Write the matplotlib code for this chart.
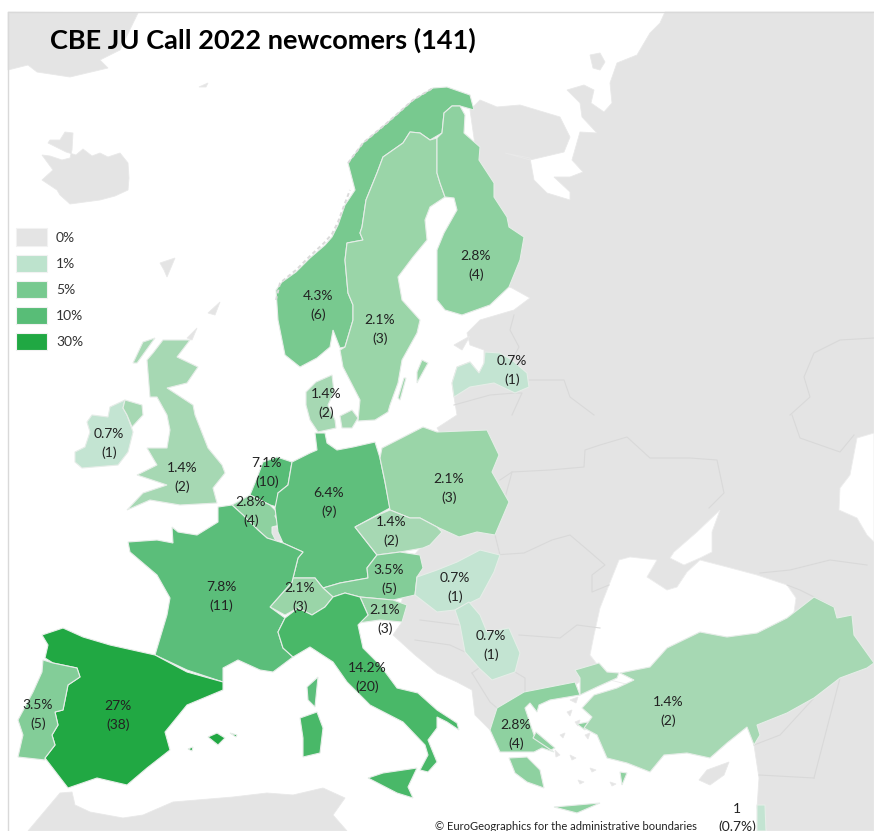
import matplotlib
matplotlib.use("Agg")
import matplotlib.pyplot as plt
from matplotlib.patches import Polygon, Rectangle

# ---------- data ----------
countries = ["NO","SE","FI","LV","DK","IE","UK","NL","BE","DE","PL","CZ","AT","CH","FR","SI","HU","RS","IT","ES","PT","EL","TR"]
percent = ["4.3%","2.1%","2.8%","0.7%","1.4%","0.7%","1.4%","7.1%","2.8%","6.4%","2.1%","1.4%","3.5%","2.1%","7.8%","2.1%","0.7%","0.7%","14.2%","27%","3.5%","2.8%","1.4%"]
counts = [6,3,4,1,2,1,2,10,4,9,3,2,5,3,11,3,1,1,20,38,5,4,2]
legend_labels = ["0%","1%","5%","10%","30%"]
title = "CBE JU Call 2022 newcomers (141)"
credit = "© EuroGeographics for the administrative boundaries"

# ---------- styles ----------
fills = {"NO":"#78C98F","SE":"#9AD5A8","FI":"#8ED1A0","LV":"#C3E4D2","DK":"#A6D8B3","IE":"#C3E4D2","UK":"#A6D8B3",
         "NL":"#57BC76","BE":"#8ED1A0","DE":"#5FBF7C","PL":"#9AD5A8","CZ":"#A6D8B3","AT":"#83CD98","CH":"#9AD5A8",
         "FR":"#5BBE7A","SI":"#9AD5A8","HU":"#C3E4D2","RS":"#C3E4D2","IT":"#49B868","ES":"#21A843","PT":"#83CD98",
         "EL":"#8ED1A0","TR":"#A6D8B3","IL":"#C3E4D2"}
legend_colors = ["#E4E4E4","#BDE3CD","#77C98F","#58BD77","#20A843"]
GREY = "#E4E4E4"
label_pos = {"NO":(318,296),"SE":(380,320),"FI":(476,256),"LV":(512,361),"DK":(326,394),"IE":(109,434),"UK":(182,468),
             "NL":(267,463),"BE":(251,502),"DE":(329,493),"PL":(449,479),"CZ":(391,522),"AT":(389,570),"CH":(300,588),
             "FR":(221,587),"SI":(385,610),"HU":(455,578),"RS":(491,636),"IT":(367,668),"ES":(118,706),"PT":(38,705),
             "EL":(516,725),"TR":(668,702)}

# ---------- map outlines (pixel geometry of the base map) ----------
grey_land = [
 [(665,12),(660,23),(650,33),(637,55),(617,63),(610,83),(612,103),(604,112),(591,103),(594,90),(584,85),(567,90),(580,103),
  (582,117),(597,133),(580,132),(572,160),(583,172),(570,177),(554,177),(570,192),(570,200),(547,193),(534,180),(530,158),
  (505,153),(530,160),(564,152),(570,137),(560,117),(520,105),(497,107),(480,100),(470,110),(490,250),(509,287),(512,288),
  (530,298),(514,310),(480,320),(467,333),(470,345),(484,350),(484,365),(479,373),(470,362),(457,367),(452,383),(454,397),
  (457,415),(437,428),(445,440),(480,470),(460,520),(440,525),(410,560),(400,610),(402,622),(393,635),(415,655),(437,673),
  (457,682),(472,690),(475,715),(490,730),(500,720),(520,700),(575,685),(590,675),(600,668),(620,660),(660,650),(790,625),
  (790,640),(757,700),(754,745),(759,778),(757,808),(767,831),(874,831),(874,12)],
 [(42,155),(50,156),(62,160),(70,158),(72,150),(73,133),(65,132),(60,140),(50,140),(48,143),(58,148),(66,152),(76,155),(83,149),
  (92,156),(100,153),(108,157),(120,153),(128,163),(129,178),(128,190),(115,196),(100,200),(85,202),(70,204),(60,195),(57,190),
  (42,180),(53,170)],
 [(8,12),(8,70),(28,65),(37,72),(70,77),(108,68),(100,60),(120,50),(138,13)],
 [(28,831),(60,793),(72,792),(75,805),(90,812),(123,818),(143,815),(173,802),(233,797),(267,793),(293,795),(323,788),(345,798),
  (333,815),(347,831)],
 [(273,527),(281,527),(282,540),(276,541),(272,533)],
 [(699,780),(707,770),(729,762),(724,775),(710,785)],
 [(590,55),(600,53),(605,62),(600,70),(593,68)],
 [(160,263),(175,258),(167,277),(164,270)],
 [(187,338),(197,328),(192,340)],
 [(208,313),(220,302),(215,315)],
 [(454,345),(470,336),(462,350)],
 [(199,87),(208,83),(206,87)],
 [(570,700),(578,697),(576,703)],
 [(567,712),(572,710),(570,716)],
 [(585,735),(590,733),(588,739)],
 [(575,722),(580,720),(578,726)],
 [(560,735),(565,733),(563,738)],
 [(555,750),(560,755),(556,757)],
 [(570,755),(576,758),(572,760)],
 [(590,768),(596,770),(592,772)],
 [(578,780),(584,782),(580,784)],
 [(610,782),(616,784),(612,786)],
 [(525,770),(530,772),(527,775)],
]
seas = [
 [(590,655),(594,635),(600,608),(609,585),(619,560),(630,557),(657,560),(647,577),(667,590),(677,587),(687,572),(700,560),
  (727,567),(757,575),(787,585),(796,598),(790,640),(700,660),(650,690),(610,680),(600,668)],
 [(674,552),(697,532),(720,510),(712,532),(712,552),(700,558),(684,565),(670,558)],
 [(874,433),(857,438),(850,475),(840,488),(839,510),(857,518),(867,535),(874,542)],
]
grey_borders = [
 [(500,480),(512,472),(550,470),(584,467),(585,450),(600,445),(627,437),(650,458),(690,458),(717,460),(724,493),(709,508)],
 [(494,555),(524,553),(552,540),(570,535),(590,552),(605,565),(592,575),(592,592),(609,585)],
 [(519,635),(560,638),(577,625),(600,628)],
 [(525,692),(525,678),(515,672)],
 [(495,535),(500,555)],
 [(760,573),(790,570),(830,560),(867,565)],
 [(787,585),(800,590),(834,607)],
 [(790,415),(810,397),(804,377),(814,353),(840,340),(874,338)],
 [(792,415),(800,438),(840,452),(854,435)],
 [(514,315),(510,330),(519,347),(512,360)],
 [(512,415),(522,393),(515,393)],
 [(529,380),(564,380),(570,397),(594,415)],
 [(454,405),(490,395),(515,393)],
 [(495,535),(512,472)],
 [(472,673),(490,702),(497,708)],
 [(479,668),(472,673)],
 [(420,620),(460,625)],
 [(415,640),(450,645),(465,652)],
 [(754,745),(780,735),(814,698)],
 [(814,778),(759,775)],
 [(814,778),(840,678)],
]
coast_fringe = [
 [(276,300),(280,283),(296,270),(310,256),(324,243),(332,234),(338,222),(345,203),(350,190)],
 [(348,163),(363,143),(387,123),(413,100),(433,88)],
]
outlines = {
 "NO":[[(300,367),(285,355),(282,340),(278,320),(276,290),(282,282),(296,272),(310,258),(325,245),(332,237),(338,225),(345,205),
        (355,190),(348,163),(363,143),(387,123),(413,100),(433,88),(447,87),(470,95),(474,110),(460,106),(452,106),(444,113),
        (442,133),(430,140),(420,133),(410,132),(403,143),(383,157),(377,173),(366,200),(362,227),(360,233),(363,240),(347,243),
        (345,260),(348,293),(353,305),(353,320),(345,347),(340,348),(333,330),(330,347),(317,358)]],
 "SE":[[(410,132),(420,133),(430,140),(437,138),(437,173),(440,183),(445,197),(430,207),(425,220),(427,240),(413,257),(398,277),
        (402,300),(420,320),(417,333),(402,360),(398,383),(390,405),(388,412),(375,420),(358,421),(360,400),(343,367),(340,350),
        (345,347),(353,320),(353,305),(348,293),(345,260),(347,243),(363,240),(360,233),(362,227),(366,200),(377,173),(383,157),(403,143)],
       [(417,383),(428,363),(422,360),(417,372)],
       [(400,400),(406,378),(404,378),(398,398)]],
 "FI":[[(452,106),(460,106),(465,115),(464,133),(480,147),(479,160),(494,183),(494,197),(507,217),(509,227),(524,237),(520,260),
        (509,287),(490,305),(462,315),(445,310),(437,300),(437,250),(444,233),(457,210),(454,198),(445,197),(440,183),(437,173),
        (437,138),(442,133),(444,113)]],
 "LV":[[(452,383),(457,367),(470,362),(479,373),(484,363),(485,352),(500,353),(512,360),(527,373),(529,387),(515,393),(494,383),
        (470,387),(454,397)]],
 "DK":[[(306,392),(316,382),(332,375),(334,392),(328,405),(335,420),(336,428),(318,432),(310,420),(306,405)],
       [(340,416),(352,410),(358,418),(352,428),(342,428)]],
 "IE":[[(110,407),(125,400),(123,408),(127,415),(133,432),(128,452),(118,465),(82,468),(75,462),(75,452),(85,447),(90,432),(87,422),(92,415),(108,417)]],
 "UK":[[(163,340),(190,340),(177,357),(198,367),(187,383),(167,388),(193,405),(195,415),(208,448),(222,465),(225,473),(213,488),
        (217,503),(180,505),(150,500),(127,510),(143,493),(167,485),(137,475),(157,465),(147,448),(167,448),(170,430),(167,415),
        (157,397),(150,397),(147,360),(153,353)],
       [(123,408),(125,400),(142,405),(143,415),(132,427),(127,415)],
       [(143,342),(155,338),(137,363),(133,363)]],
 "NL":[[(292,462),(288,485),(278,493),(277,507),(270,505),(250,495),(257,478),(263,462),(277,457)]],
 "BE":[[(232,505),(250,495),(270,505),(277,512),(275,516),(280,525),(272,527),(272,533),(276,541),(267,538),(258,530),(243,515)]],
 "DE":[[(315,433),(325,433),(327,443),(337,450),(353,447),(375,442),(380,458),(385,482),(390,508),(355,527),(377,555),(367,568),
        (368,578),(340,583),(323,588),(315,578),(293,578),(298,558),(303,552),(283,543),(278,532),(275,508),(278,493),(288,485),
        (292,462),(310,453),(317,450)]],
 "PL":[[(382,448),(423,427),(437,432),(487,430),(499,455),(492,472),(509,502),(495,535),(477,532),(459,537),(437,527),(420,518),
        (410,518),(390,510),(385,482),(380,458)]],
 "CZ":[[(355,527),(378,515),(390,510),(410,518),(420,518),(437,527),(442,532),(430,545),(423,548),(400,552),(377,555)]],
 "AT":[[(377,555),(400,552),(420,555),(423,568),(417,577),(415,595),(393,600),(360,597),(345,593),(333,597),(323,588),(340,583),(368,578),(367,568)]],
 "CH":[[(270,607),(292,582),(293,578),(315,578),(323,588),(333,597),(325,607),(312,615),(298,608),(285,615)]],
 "SI":[[(360,597),(393,600),(407,605),(402,622),(380,620),(358,623),(368,615)]],
 "FR":[[(218,507),(232,505),(243,515),(258,530),(267,538),(283,543),(303,552),(298,558),(293,578),(292,582),(270,607),(285,618),
        (278,632),(283,648),(293,657),(273,672),(260,670),(238,660),(223,668),(223,682),(187,670),(155,655),(167,615),(170,598),
        (157,575),(130,552),(128,542),(157,540),(173,543),(172,527),(178,532),(197,535),(218,522)],
       [(307,687),(318,677),(315,707),(308,700)]],
 "ES":[[(42,635),(63,628),(83,637),(110,645),(155,655),(187,672),(223,682),(223,690),(187,705),(165,732),(170,750),(147,768),(127,785),
        (97,778),(68,788),(45,758),(55,745),(52,735),(58,725),(55,712),(63,710),(68,685),(80,677),(77,668),(53,663),(45,658),(48,645)],
       [(208,737),(217,733),(225,738),(218,745)],
       [(230,733),(237,735),(236,737)],
       [(188,749),(193,747),(192,751)]],
 "PT":[[(43,660),(53,663),(77,668),(80,677),(68,685),(63,710),(55,712),(58,725),(52,735),(55,745),(45,758),(45,760),(18,757),(23,735),(18,720),(33,692),(42,672)]],
 "IT":[[(285,618),(298,608),(312,615),(325,607),(333,597),(345,593),(360,597),(368,615),(358,625),(363,648),(380,665),(397,688),(418,693),
        (437,710),(457,723),(459,730),(447,722),(437,717),(437,728),(428,740),(437,762),(428,772),(420,770),(428,755),(425,745),(403,722),
        (370,705),(347,682),(333,662),(310,647),(293,657),(283,648),(278,632)],
       [(368,778),(383,773),(417,768),(408,787),(413,798),(397,793)],
       [(300,718),(317,712),(323,728),(320,753),(303,757),(303,738)]],
 "HU":[[(500,555),(480,550),(457,562),(437,570),(417,577),(415,595),(437,612),(455,610),(480,598),(494,572)]],
 "RS":[[(455,610),(469,602),(480,615),(487,632),(509,628),(520,653),(515,672),(492,680),(479,668),(465,652),(460,625)]],
 "EL":[[(490,730),(497,708),(524,692),(575,682),(580,695),(550,700),(539,705),(537,712),(530,703),(525,708),(534,735),(545,745),(554,752),
        (542,748),(534,752),(517,752),(500,752)],
       [(509,758),(527,757),(540,770),(544,788),(527,782),(515,773)],
       [(536,732),(555,748),(551,750),(533,738)],
       [(554,807),(600,803),(577,813)],
       [(620,772),(627,773),(622,785)],
       [(577,724),(588,722),(585,730)]],
 "TR":[[(575,670),(599,663),(607,672),(619,673),(617,678),(597,687),(580,695),(580,678)],
       [(620,673),(650,667),(667,648),(700,632),(727,637),(757,633),(787,618),(814,597),(834,607),(837,618),(852,615),(854,635),(874,663),
        (867,668),(840,678),(814,698),(787,713),(757,725),(760,735),(754,745),(747,727),(727,743),(710,758),(687,753),(664,755),(650,772),
        (627,763),(607,758),(597,735),(584,728),(592,717),(582,708),(594,695),(617,688),(634,680)]],
 "IL":[[(757,805),(765,805),(766,831),(757,831)]],
}

# ---------- drawing ----------
fig = plt.figure(figsize=(8.74, 8.31), dpi=100, facecolor="white")
ax = fig.add_axes([0, 0, 1, 1])
ax.set_xlim(0, 874)
ax.set_ylim(831, 0)
ax.axis("off")
FONT = ["Lato", "DejaVu Sans"]

for pts in grey_land:
    ax.add_patch(Polygon(pts, closed=True, fc=GREY, ec="#E9E9E9", lw=0.6, zorder=1))
for pts in seas:
    ax.add_patch(Polygon(pts, closed=True, fc="white", ec="#EDEDED", lw=0.6, zorder=2))
for pts in grey_borders:
    xs, ys = zip(*pts)
    ax.plot(xs, ys, color="#D9D9D9", lw=0.8, zorder=3)
for code, parts in outlines.items():
    for pts in parts:
        ax.add_patch(Polygon(pts, closed=True, fc=fills[code], ec="#E6EDE8", lw=0.8, zorder=4))
for pts in coast_fringe:
    xs, ys = zip(*pts)
    ax.plot(xs, ys, color="#DADADA", lw=1.4, ls=(0, (2, 1.5)), zorder=5)

ax.plot([8, 8, 874], [831, 11.5, 11.5], color="#D9D9D9", lw=1.0, zorder=6)

for code, pct, n in zip(countries, percent, counts):
    x, y = label_pos[code]
    ax.text(x, y, pct, ha="center", va="center", fontsize=10, color="#222222", family=FONT, zorder=8)
    ax.text(x, y + 18.5, f"({n})", ha="center", va="center", fontsize=10, color="#222222", family=FONT, zorder=8)

ax.text(737, 809, "1", ha="center", va="center", fontsize=10, color="#222222", family=FONT, zorder=8)
ax.text(737, 827, "(0.7%)", ha="center", va="center", fontsize=10, color="#222222", family=FONT, zorder=8)

legend_tops = [228, 254.5, 280.5, 306.5, 332.5]
for top, color, lab in zip(legend_tops, legend_colors, legend_labels):
    ax.add_patch(Rectangle((15.5, top), 31, 17.5, fc=color, ec="#F2F2F2", lw=0.8, zorder=7))
    ax.text(56, top + 10, lab, ha="left", va="center", fontsize=10, color="#333333", family=FONT, zorder=8)

ax.text(50, 40, title, ha="left", va="center", fontsize=19.5, fontweight="bold", color="black", family=FONT, zorder=8)
ax.text(435, 826, credit, ha="left", va="center", fontsize=8, color="#222222", family=FONT, zorder=8,
        bbox=dict(fc="white", ec="none", pad=1))

fig.savefig("out.png", dpi=100, facecolor="white")
